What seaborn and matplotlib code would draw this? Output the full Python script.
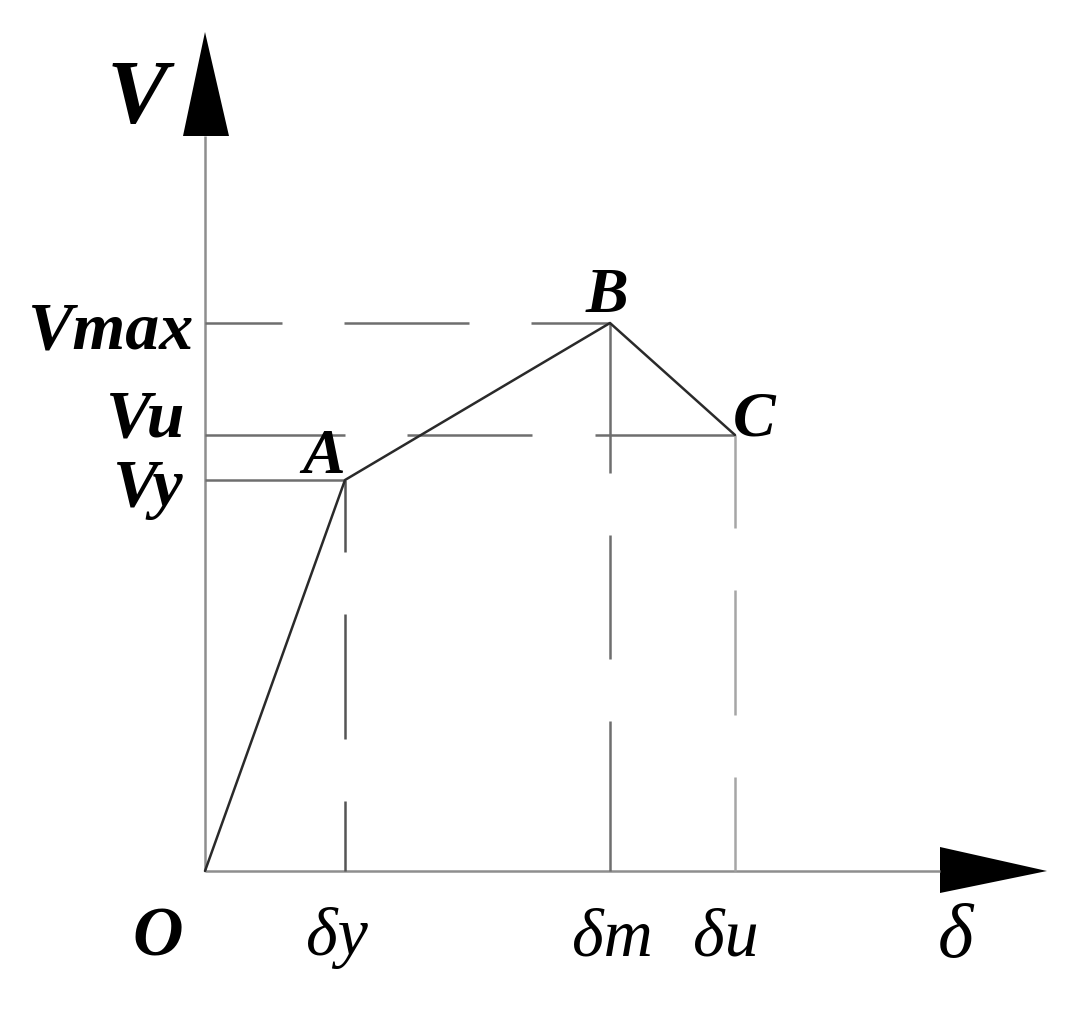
import matplotlib
matplotlib.use("Agg")
import matplotlib.pyplot as plt
import seaborn as sns
import pandas as pd

# key points of the skeleton curve (O, A, B, C)
points = ['O', 'A', 'B', 'C']
delta = [0.0, 1.40, 4.05, 5.30]      # δ: 0, δy, δm, δu
force = [0.0, 3.91, 5.48, 4.36]      # V: 0, Vy, Vmax, Vu
v_labels = ['Vy', 'Vmax', 'Vu']
d_labels = ['δy', 'δm', 'δu']

sns.set_style('white')
plt.rcParams['font.family'] = ['Liberation Serif', 'DejaVu Serif']
plt.rcParams['lines.scale_dashes'] = False

DPI = 72
fig = plt.figure(figsize=(1078 / DPI, 1017 / DPI), dpi=DPI)
ax = fig.add_axes([0, 0, 1, 1])
ax.set_xlim(-2.05, 8.73)
ax.set_ylim(-1.46, 8.71)
ax.set_axis_off()

df = pd.DataFrame({'point': points, 'delta': delta, 'V': force})

# axes with arrow heads
axis_c = '#8e8e8e'
ax.plot([0, 7.35], [0, 0], color=axis_c, lw=2.5, solid_capstyle='butt')
ax.plot([0, 0], [0, 7.35], color=axis_c, lw=2.5, solid_capstyle='butt')
ax.fill([7.35, 8.42, 7.35], [0.24, 0, -0.22], color='black', lw=0)
ax.fill([-0.22, 0, 0.24], [7.35, 8.39, 7.35], color='black', lw=0)

# guide lines
guide_c = '#6e6e6e'
dy, dm, du = delta[1], delta[2], delta[3]
vy, vmax, vu = force[1], force[2], force[3]
ax.plot([0, dy], [vy, vy], color=guide_c, lw=2.5, solid_capstyle='butt')
ax.plot([0, dm], [vmax, vmax], color=guide_c, lw=2.5, ls=(48, (125, 62)))
ax.plot([0, du], [vu, vu], color=guide_c, lw=2.5, ls=(0, (140, 62, 125, 63, 140, 10)))
ax.plot([dy, dy], [vy, 0], color='#555555', lw=2.5, ls=(53, (125, 62)))
ax.plot([dm, dm], [vmax, 0], color=guide_c, lw=2.5, ls=(0, (150, 62, 124, 62, 151, 10)))
ax.plot([du, du], [vu, 0], color='#a6a6a6', lw=2.5, ls=(32, (125, 62)))

# skeleton curve
sns.lineplot(data=df, x='delta', y='V', sort=False, color='#2a2a2a', lw=2.5, ax=ax)

# labels
bi = dict(fontweight='bold', fontstyle='italic', color='black')
it = dict(fontstyle='italic', color='black')
ax.text(-0.68, 7.48, 'V', fontsize=92, ha='center', va='baseline', **bi)
ax.text(-0.12, vmax - 0.25, v_labels[1], fontsize=68, ha='right', va='baseline', **bi)
ax.text(-0.20, vu - 0.02, v_labels[2], fontsize=68, ha='right', va='baseline', **bi)
ax.text(-0.22, vy - 0.26, v_labels[0], fontsize=68, ha='right', va='baseline', **bi)

ax.annotate('A', (dy, vy), xytext=(0, 7), textcoords='offset points', fontsize=64,
            ha='right', va='baseline', **bi)
ax.annotate('B', (dm, vmax), xytext=(-3, 11), textcoords='offset points', fontsize=64,
            ha='center', va='baseline', **bi)
ax.annotate('C', (du, vu), xytext=(-2, 0), textcoords='offset points', fontsize=64,
            ha='left', va='baseline', **bi)

ax.text(-0.47, -0.84, 'O', fontsize=70, ha='center', va='baseline', **bi)
for x, lab, dx in zip(delta[1:], d_labels, [-8, 2, -9]):
    ax.annotate(lab, (x, 0), xytext=(dx, -84), textcoords='offset points', fontsize=68,
                ha='center', va='baseline', **it)
ax.text(7.50, -0.86, 'δ', fontsize=76, ha='center', va='baseline', **it)

fig.savefig('out.png', dpi=DPI, facecolor='white')
